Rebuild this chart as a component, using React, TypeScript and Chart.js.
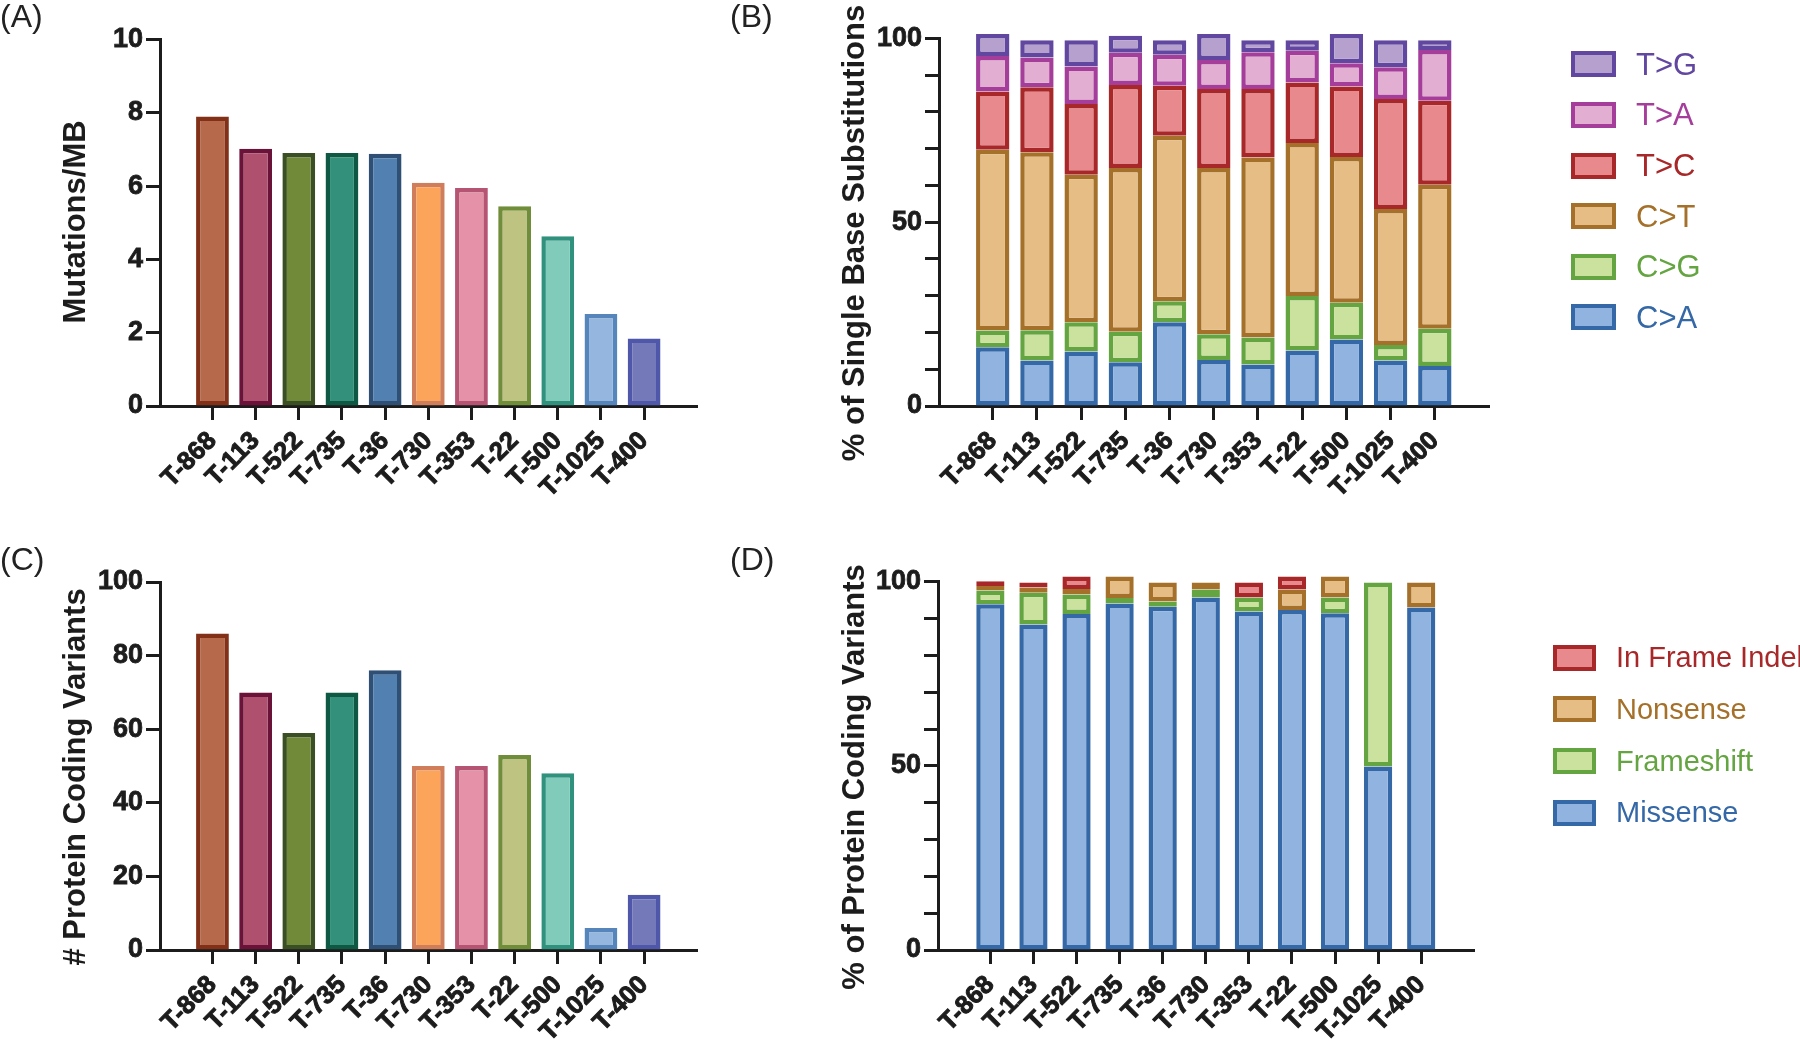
import React, { useEffect, useRef } from 'react';
import { Chart, registerables } from 'chart.js';

Chart.register(...registerables);

// ---------------- data ----------------
const samples = ['T-868', 'T-113', 'T-522', 'T-735', 'T-36', 'T-730', 'T-353', 'T-22', 'T-500', 'T-1025', 'T-400'];

const mutationsPerMb = [7.9, 7.02, 6.9, 6.9, 6.88, 6.09, 5.95, 5.45, 4.63, 2.51, 1.84];
const proteinCodingVariants = [86, 70, 59, 70, 76, 50, 50, 53, 48, 6, 15];

const sbsCA = [16.0, 12.4, 14.8, 11.9, 22.8, 12.5, 11.3, 15.1, 18.1, 12.4, 10.9];
const sbsCG = [4.5, 8.2, 8.0, 8.3, 5.7, 7.0, 7.3, 14.8, 10.0, 4.2, 10.1];
const sbsCT = [49.2, 48.4, 40.1, 44.5, 45.0, 45.2, 49.0, 41.6, 39.6, 37.0, 39.2];
const sbsTC = [15.8, 17.7, 19.2, 22.6, 13.6, 21.5, 18.6, 16.5, 19.2, 29.9, 22.8];
const sbsTA = [9.7, 8.1, 10.2, 8.8, 8.4, 7.9, 10.0, 8.6, 6.3, 8.6, 13.8];
const sbsTG = [6.0, 4.7, 7.2, 4.6, 4.0, 7.1, 3.3, 2.9, 8.0, 7.4, 2.7];

const missense = [93.9, 88.4, 91.2, 94.1, 93.2, 95.7, 91.9, 92.3, 91.4, 49.8, 93.0];
const frameshift = [3.7, 8.6, 5.3, 1.5, 1.4, 2.2, 3.8, 0, 4.3, 50.0, 0];
const nonsense = [1.2, 1.4, 1.5, 5.8, 5.2, 1.9, 0, 5.6, 5.7, 0, 6.8];
const inFrameIndel = [1.3, 1.4, 3.4, 0, 0, 0, 4.1, 3.5, 0, 0, 0];

const yTicksA = [0, 2, 4, 6, 8, 10];
const yTicksC = [0, 20, 40, 60, 80, 100];

// ---------------- styles ----------------
const sampleFill = ['#B66A4B', '#B0506F', '#718A3A', '#33917B', '#5180B1', '#FBA45A', '#E592A8', '#BFC381', '#81CBBB', '#95B7DF', '#7479BA'];
const sampleBorder = ['#833019', '#6B1238', '#3A5024', '#0F5843', '#2F4F74', '#D07D5C', '#B65474', '#708E3A', '#30917D', '#5585BA', '#4E57A9'];

const COL = {
  TG: { fill: '#B6A1CE', border: '#6247A0' },
  TA: { fill: '#E2AED2', border: '#A53E9B' },
  TC: { fill: '#E8898D', border: '#A82728' },
  CT: { fill: '#E7BD86', border: '#A5712A' },
  CG: { fill: '#CAE29D', border: '#64A441' },
  CA: { fill: '#91B3DF', border: '#3568A6' },
};

const AXIS = '#1c1c1c';
const FAMILY = "'Liberation Sans', Arial, Helvetica, sans-serif";

const sideTitlePlugin = {
  id: 'sideTitle',
  afterDraw(chart: any, _args: any, opts: any) {
    if (!opts || !opts.text) return;
    const ctx = chart.ctx;
    ctx.save();
    ctx.translate(opts.x, opts.y);
    ctx.rotate(-Math.PI / 2);
    ctx.font = opts.font;
    ctx.fillStyle = opts.color;
    ctx.textAlign = 'center';
    ctx.textBaseline = 'middle';
    ctx.fillText(opts.text, 0, 0);
    ctx.restore();
  },
};

interface PanelSpec {
  left: number; top: number; width: number; height: number;
  chartLeft: number; chartRight: number; chartTop: number; chartBottom: number;
  yMax: number; yStep: number; yLabelEvery: number;
  title: string; titleX: number; titleY: number;
  datasets: any[];
}

function toPoints(vals: number[]) {
  return vals.map((y, i) => ({ x: i, y }));
}

function stackSet(label: string, vals: number[], c: { fill: string; border: string }, barPct: number) {
  return {
    label,
    data: toPoints(vals),
    backgroundColor: c.fill,
    borderColor: c.border,
    borderWidth: 4.5,
    borderSkipped: false,
    barPercentage: barPct,
    categoryPercentage: 1,
    stack: 's',
    clip: false,
  };
}

function sampleSet(vals: number[]) {
  return [{
    label: 'value',
    data: toPoints(vals),
    backgroundColor: sampleFill,
    borderColor: sampleBorder,
    borderWidth: 4.5,
    borderSkipped: false,
    barPercentage: 0.76,
    categoryPercentage: 1,
    clip: false,
  }];
}

function buildConfig(spec: PanelSpec): any {
  const cl = spec.chartLeft - spec.left;
  const cr = spec.chartRight - spec.left;
  const ct = spec.chartTop - spec.top;
  const cb = spec.chartBottom - spec.top;
  return {
    type: 'bar',
    data: { datasets: spec.datasets },
    plugins: [sideTitlePlugin],
    options: {
      animation: false,
      responsive: false,
      devicePixelRatio: 1,
      layout: { padding: { left: 0, top: ct, right: spec.width - cr, bottom: 0 } },
      plugins: {
        legend: { display: false },
        tooltip: { enabled: false },
        sideTitle: {
          text: spec.title,
          x: spec.titleX - spec.left,
          y: spec.titleY - spec.top,
          font: `bold 31px ${FAMILY}`,
          color: AXIS,
        },
      },
      scales: {
        x: {
          type: 'linear',
          min: -0.65,
          max: 10.66,
          afterBuildTicks: (scale: any) => {
            scale.ticks = samples.map((_, i) => ({ value: i }));
          },
          afterFit: (scale: any) => {
            scale.height = spec.height - cb;
          },
          grid: {
            display: true, drawOnChartArea: false, drawTicks: true,
            tickLength: 14, tickWidth: 3, tickColor: AXIS, offset: false,
          },
          border: { display: true, width: 3, color: AXIS },
          ticks: {
            autoSkip: false, minRotation: 45, maxRotation: 45, padding: 6, labelOffset: 0,
            color: AXIS,
            textStrokeColor: AXIS,
            textStrokeWidth: 1,
            font: { family: FAMILY, weight: 'bold', size: 25.5 },
            callback: (v: any) => samples[Math.round(Number(v))] ?? '',
          },
        },
        y: {
          type: 'linear',
          min: 0,
          max: spec.yMax,
          stacked: true,
          afterFit: (scale: any) => {
            scale.width = cl;
          },
          grid: {
            display: true, drawOnChartArea: false, drawTicks: true,
            tickLength: 14, tickWidth: 3, tickColor: AXIS,
          },
          border: { display: true, width: 3, color: AXIS },
          ticks: {
            stepSize: spec.yStep,
            padding: 3,
            color: AXIS,
            textStrokeColor: AXIS,
            textStrokeWidth: 0.8,
            font: { family: FAMILY, weight: 'bold', size: 27 },
            callback: (v: any) => (Number(v) % spec.yLabelEvery === 0 ? String(v) : ''),
          },
        },
      },
    },
  };
}

const panels: PanelSpec[] = [
  {
    left: 0, top: 0, width: 760, height: 540,
    chartLeft: 160, chartRight: 697, chartTop: 39.5, chartBottom: 406,
    yMax: yTicksA[yTicksA.length - 1], yStep: yTicksA[1] - yTicksA[0], yLabelEvery: yTicksA[1] - yTicksA[0],
    title: 'Mutations/MB', titleX: 76, titleY: 222,
    datasets: sampleSet(mutationsPerMb),
  },
  {
    left: 760, top: 0, width: 1040, height: 540,
    chartLeft: 939, chartRight: 1489, chartTop: 38.3, chartBottom: 406,
    yMax: 100, yStep: 10, yLabelEvery: 50,
    title: '% of Single Base Substitutions', titleX: 855, titleY: 233,
    datasets: [
      stackSet('C>A', sbsCA, COL.CA, 0.755),
      stackSet('C>G', sbsCG, COL.CG, 0.755),
      stackSet('C>T', sbsCT, COL.CT, 0.755),
      stackSet('T>C', sbsTC, COL.TC, 0.755),
      stackSet('T>A', sbsTA, COL.TA, 0.755),
      stackSet('T>G', sbsTG, COL.TG, 0.755),
    ],
  },
  {
    left: 0, top: 540, width: 760, height: 504,
    chartLeft: 160, chartRight: 697, chartTop: 582, chartBottom: 950,
    yMax: yTicksC[yTicksC.length - 1], yStep: yTicksC[1] - yTicksC[0], yLabelEvery: yTicksC[1] - yTicksC[0],
    title: '# Protein Coding Variants', titleX: 76, titleY: 777,
    datasets: sampleSet(proteinCodingVariants),
  },
  {
    left: 760, top: 540, width: 1040, height: 504,
    chartLeft: 938, chartRight: 1474, chartTop: 581.7, chartBottom: 950,
    yMax: 100, yStep: 10, yLabelEvery: 50,
    title: '% of Protein Coding Variants', titleX: 855, titleY: 777,
    datasets: [
      stackSet('Missense', missense, COL.CA, 0.655),
      stackSet('Frameshift', frameshift, COL.CG, 0.655),
      stackSet('Nonsense', nonsense, COL.CT, 0.655),
      stackSet('In Frame Indel', inFrameIndel, COL.TC, 0.655),
    ],
  },
];

const legendB = [
  { label: 'T>G', c: COL.TG },
  { label: 'T>A', c: COL.TA },
  { label: 'T>C', c: COL.TC },
  { label: 'C>T', c: COL.CT },
  { label: 'C>G', c: COL.CG },
  { label: 'C>A', c: COL.CA },
];
const legendD = [
  { label: 'In Frame Indel', c: COL.TC },
  { label: 'Nonsense', c: COL.CT },
  { label: 'Frameshift', c: COL.CG },
  { label: 'Missense', c: COL.CA },
];

function PanelChart({ spec }: { spec: PanelSpec }) {
  const ref = useRef<HTMLCanvasElement | null>(null);
  useEffect(() => {
    if (!ref.current) return;
    const chart = new Chart(ref.current, buildConfig(spec));
    return () => chart.destroy();
  }, [spec]);
  return (
    <canvas
      ref={ref}
      width={spec.width}
      height={spec.height}
      style={{ position: 'absolute', left: spec.left, top: spec.top, width: spec.width, height: spec.height }}
    />
  );
}

function Legend({ items, boxLeft, boxW, boxH, firstCenter, step, textLeft, fontSize }: any) {
  return (
    <>
      {items.map((it: any, i: number) => {
        const cy = firstCenter + i * step;
        return (
          <React.Fragment key={it.label}>
            <div
              style={{
                position: 'absolute', left: boxLeft, top: cy - boxH / 2, width: boxW, height: boxH,
                boxSizing: 'border-box', background: it.c.fill, border: `4.5px solid ${it.c.border}`,
              }}
            />
            <div
              style={{
                position: 'absolute', left: textLeft, top: cy - fontSize * 0.6, height: fontSize * 1.2,
                lineHeight: `${fontSize * 1.2}px`, fontSize, fontFamily: FAMILY, color: it.c.border,
                whiteSpace: 'nowrap',
              }}
            >
              {it.label}
            </div>
          </React.Fragment>
        );
      })}
    </>
  );
}

const panelLabels = [
  { text: '(A)', x: 0, y: 0 },
  { text: '(B)', x: 730, y: 0 },
  { text: '(C)', x: 0, y: 543 },
  { text: '(D)', x: 730, y: 543 },
];

export default function App() {
  return (
    <div style={{ position: 'absolute', left: 0, top: 0, width: 1800, height: 1044, overflow: 'hidden', background: '#fff' }}>
      {panels.map((p, i) => (
        <PanelChart key={i} spec={p} />
      ))}
      {panelLabels.map((l) => (
        <div
          key={l.text}
          style={{
            position: 'absolute', left: l.x, top: l.y, fontSize: 32, lineHeight: '32px',
            fontFamily: FAMILY, color: '#222',
          }}
        >
          {l.text}
        </div>
      ))}
      <Legend items={legendB} boxLeft={1571} boxW={45} boxH={26} firstCenter={64.3} step={50.6} textLeft={1636} fontSize={31} />
      <Legend items={legendD} boxLeft={1553} boxW={43} boxH={26} firstCenter={657.7} step={51.7} textLeft={1616} fontSize={29} />
    </div>
  );
}
